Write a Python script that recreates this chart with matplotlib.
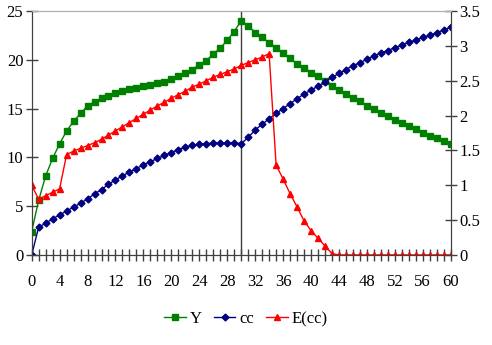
import numpy as np
import matplotlib.pyplot as plt
from matplotlib.ticker import MultipleLocator

plt.rcParams['font.family'] = ['Liberation Serif', 'DejaVu Serif']
plt.rcParams['font.size'] = 12

# series, one value per step t = 0..60
t = list(range(0, 61))
y_vals = [2.4, 5.6, 8.1, 9.9, 11.4, 12.7, 13.7, 14.5, 15.3, 15.7,
          16.05, 16.3, 16.6, 16.8, 17.0, 17.15, 17.3, 17.45, 17.6, 17.75,
          18.0, 18.3, 18.7, 19.0, 19.5, 19.9, 20.6, 21.2, 22.0, 22.9,
          24.0, 23.5, 22.8, 22.3, 21.75, 21.25, 20.7, 20.15, 19.6, 19.2,
          18.7, 18.3, 17.8, 17.3, 16.9, 16.5, 16.1, 15.8, 15.3, 14.95,
          14.6, 14.25, 13.8, 13.5, 13.2, 12.9, 12.5, 12.2, 11.95, 11.7,
          11.4]
cc_vals = [0.0, 2.85, 3.25, 3.7, 4.1, 4.5, 4.9, 5.3, 5.75, 6.25,
           6.7, 7.25, 7.7, 8.1, 8.5, 8.85, 9.25, 9.55, 9.9, 10.2,
           10.5, 10.8, 11.05, 11.25, 11.35, 11.4, 11.45, 11.45, 11.45, 11.5,
           11.4, 12.05, 12.8, 13.4, 13.95, 14.5, 15.0, 15.5, 16.0, 16.5,
           16.9, 17.3, 17.75, 18.2, 18.6, 19.0, 19.4, 19.7, 20.05, 20.4,
           20.7, 20.95, 21.25, 21.5, 21.8, 22.0, 22.3, 22.5, 22.8, 23.05,
           23.35]
ecc_vals = [1.0, 0.80, 0.85, 0.90, 0.95, 1.44, 1.49, 1.53, 1.57, 1.61,
            1.66, 1.72, 1.78, 1.84, 1.90, 1.96, 2.02, 2.08, 2.14, 2.19,
            2.25, 2.30, 2.35, 2.41, 2.45, 2.50, 2.55, 2.59, 2.63, 2.67,
            2.72, 2.76, 2.80, 2.84, 2.89, 1.29, 1.09, 0.88, 0.69, 0.49,
            0.35, 0.24, 0.13, 0.02, 0, 0, 0, 0, 0, 0,
            0, 0, 0, 0, 0, 0, 0, 0, 0, 0,
            0]
x_ticks = list(range(0, 61, 4))
left_ticks = [0, 5, 10, 15, 20, 25]
right_ticks = [0, 0.5, 1, 1.5, 2, 2.5, 3, 3.5]

fig = plt.figure(figsize=(4.92, 3.45), dpi=100)
ax = fig.add_axes([0.0644, 0.261, 0.8516, 0.707])
ax2 = ax.twinx()

axis_col = '#404040'

l1, = ax.plot(t, y_vals, color='#008000', lw=1, marker='s', ms=4, label='Y')
l2, = ax.plot(t, cc_vals, color='#000080', lw=1, marker='D', ms=3.5, label='cc')
l3, = ax2.plot(t, ecc_vals, color='#ff0000', lw=1, marker='^', ms=4.5, label='E(cc)')
ax.axvline(30, color=axis_col, lw=1, zorder=0)

ax.set_xlim(0, 60)
ax.set_ylim(0, 25)
ax2.set_ylim(0, 3.5)
ax.set_xticks(x_ticks)
ax.xaxis.set_minor_locator(MultipleLocator(1))
ax.set_yticks(left_ticks)
ax2.set_yticks(right_ticks)
ax2.set_yticklabels(['0', '0.5', '1', '1.5', '2', '2.5', '3', '3.5'])

for a in (ax, ax2):
    for side in ('left', 'bottom', 'right'):
        a.spines[side].set_color(axis_col)
    a.spines['top'].set_color('#b0b0b0')
    a.spines['top'].set_linewidth(0.8)

ax.tick_params(axis='x', which='both', direction='inout', length=9, width=1,
               color=axis_col, pad=9)
ax.tick_params(axis='y', direction='inout', length=9, width=1, color=axis_col, pad=1.5)
ax2.tick_params(axis='y', direction='inout', length=9, width=1, color=axis_col, pad=1.5)

fig.legend(handles=[l1, l2, l3], loc='center', bbox_to_anchor=(0.5, 0.075),
           ncol=3, frameon=False, handlelength=1.3, handletextpad=0.25,
           columnspacing=0.7)

fig.savefig('out.png', dpi=100)
